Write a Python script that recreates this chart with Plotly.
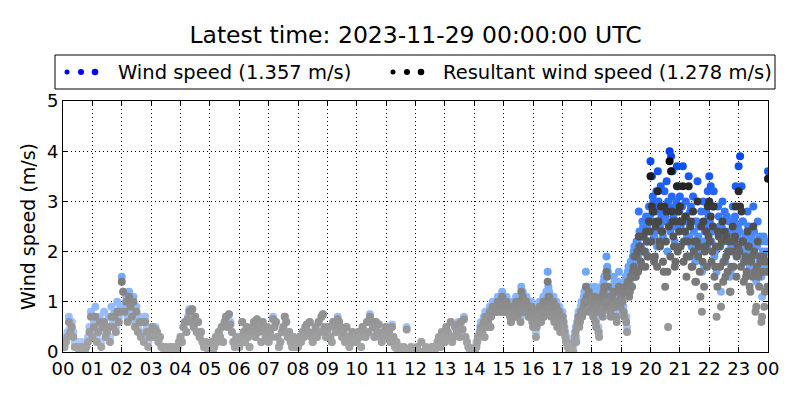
import numpy as np
import plotly.graph_objects as go

# 00:00-13:57, 3-minute samples
ws_a = [0.2,0.1,0.3,0.4,0.7,0.5,0.6,0.4,0.2,0.1,0.2,0.0,0.1,0.2,0.1,0.0,0.1,0.3,0.5,0.8,
        0.4,0.6,0.9,0.3,0.5,0.7,0.2,0.6,0.8,0.4,0.5,0.7,0.3,0.9,0.6,0.8,0.5,1.0,0.7,0.9,
        1.5,1.2,0.9,1.1,0.7,1.2,1.0,0.8,1.1,0.6,0.9,0.5,0.7,0.4,0.6,0.3,0.7,0.5,0.2,0.4,
        0.4,0.5,0.3,0.5,0.4,0.2,0.3,0.1,0.1,0.0,0.1,0.0,0.0,0.1,0.0,0.1,0.0,0.0,0.1,0.2,
        0.3,0.2,0.5,0.6,0.4,0.7,0.85,0.6,0.85,0.5,0.7,0.4,0.6,0.3,0.4,0.2,0.1,0.2,0.1,0.0,
        0.1,0.2,0.0,0.1,0.3,0.2,0.4,0.3,0.5,0.2,0.6,0.7,0.5,0.75,0.6,0.4,0.2,0.1,0.3,0.2,
        0.1,0.3,0.6,0.4,0.2,0.5,0.3,0.1,0.4,0.5,0.6,0.3,0.65,0.4,0.5,0.2,0.6,0.4,0.3,0.5,
        0.2,0.4,0.3,0.7,0.5,0.6,0.3,0.1,0.2,0.4,0.5,0.7,0.6,0.3,0.4,0.2,0.1,0.3,0.2,0.1,
        0.1,0.3,0.2,0.4,0.3,0.5,0.55,0.4,0.6,0.3,0.2,0.4,0.5,0.3,0.6,0.4,0.7,0.75,0.5,0.3,
        0.4,0.5,0.3,0.2,0.6,0.5,0.4,0.7,0.6,0.5,0.3,0.4,0.2,0.5,0.3,0.1,0.2,0.4,0.3,0.2,
        0.2,0.4,0.3,0.1,0.5,0.4,0.3,0.6,0.4,0.75,0.6,0.5,0.3,0.6,0.4,0.55,0.3,0.2,0.4,0.3,
        0.5,0.3,0.4,0.2,0.55,0.3,0.1,0.2,0.0,0.1,0.0,0.0,0.1,0.0,0.5,0.0,0.0,0.1,0.0,0.0,
        0.0,0.1,0.0,0.0,0.2,0.0,0.0,0.1,0.0,0.0,0.0,0.1,0.0,0.0,0.1,0.2,0.3,0.1,0.4,0.3,
        0.2,0.5,0.4,0.3,0.6,0.2,0.3,0.5,0.4,0.6,0.3,0.6,0.45,0.7,0.3,0.2,0.1,0.0,0.0,0.0]
rws_a = [0.1,0.1,0.2,0.3,0.6,0.4,0.5,0.3,0.1,0.1,0.1,0.0,0.1,0.1,0.0,0.0,0.1,0.2,0.4,0.7,
         0.3,0.5,0.7,0.2,0.4,0.6,0.1,0.5,0.6,0.3,0.4,0.5,0.2,0.7,0.5,0.7,0.4,0.8,0.6,0.8,
         1.4,1.2,0.8,1.0,0.6,1.1,0.9,0.7,1.0,0.5,0.8,0.4,0.6,0.3,0.6,0.2,0.6,0.4,0.1,0.3,
         0.4,0.5,0.3,0.45,0.4,0.2,0.3,0.1,0.1,0.0,0.1,0.0,0.0,0.1,0.0,0.1,0.0,0.0,0.1,0.2,
         0.3,0.2,0.5,0.6,0.4,0.65,0.8,0.6,0.85,0.5,0.7,0.4,0.6,0.3,0.4,0.2,0.1,0.2,0.1,0.0,
         0.1,0.2,0.0,0.1,0.3,0.2,0.4,0.3,0.5,0.2,0.6,0.7,0.5,0.75,0.55,0.4,0.2,0.1,0.3,0.2,
         0.1,0.3,0.6,0.4,0.2,0.5,0.3,0.1,0.4,0.5,0.6,0.3,0.65,0.4,0.5,0.2,0.6,0.4,0.3,0.5,
         0.2,0.4,0.3,0.65,0.5,0.6,0.3,0.1,0.2,0.4,0.5,0.7,0.6,0.3,0.4,0.2,0.1,0.3,0.2,0.1,
         0.1,0.3,0.2,0.4,0.3,0.5,0.55,0.4,0.6,0.3,0.2,0.4,0.5,0.3,0.6,0.4,0.7,0.75,0.5,0.3,
         0.4,0.5,0.3,0.2,0.6,0.5,0.4,0.65,0.6,0.5,0.3,0.4,0.2,0.5,0.3,0.1,0.2,0.4,0.3,0.2,
         0.2,0.4,0.3,0.1,0.5,0.4,0.3,0.6,0.4,0.7,0.6,0.5,0.3,0.6,0.4,0.55,0.3,0.2,0.4,0.3,
         0.5,0.3,0.4,0.2,0.5,0.3,0.1,0.2,0.0,0.1,0.0,0.0,0.1,0.0,0.45,0.0,0.0,0.1,0.0,0.0,
         0.0,0.1,0.0,0.0,0.2,0.0,0.0,0.1,0.0,0.0,0.0,0.1,0.0,0.0,0.1,0.2,0.3,0.1,0.4,0.3,
         0.2,0.5,0.4,0.3,0.6,0.2,0.3,0.5,0.4,0.55,0.3,0.6,0.45,0.65,0.3,0.2,0.1,0.0,0.0,0.0]

# 14:00-24:00, 3-minute samples
ws_b = [0.0,0.1,0.2,0.3,0.5,0.4,0.6,0.3,0.7,0.6,0.8,0.5,0.9,0.8,1.0,0.9,1.1,0.9,1.0,1.2,
        1.0,0.9,1.1,0.8,0.9,0.6,1.0,0.9,0.8,1.0,1.1,0.9,1.3,1.2,0.9,1.1,1.0,0.8,0.9,1.0,
        0.6,0.8,0.4,0.9,0.7,1.0,0.8,1.1,0.9,1.2,1.6,1.2,1.0,0.9,1.1,0.8,1.0,0.7,0.9,0.6,
        0.8,0.6,0.4,0.3,0.2,0.1,0.1,0.0,0.3,0.5,0.6,0.8,0.7,1.0,0.9,1.2,1.6,1.1,1.3,0.9,
        1.1,0.8,1.3,0.6,1.0,0.4,1.2,0.9,1.4,1.0,1.9,1.6,1.2,0.8,1.3,1.5,1.1,0.7,1.4,1.2,
        1.3,1.1,0.8,1.5,0.5,1.7,1.4,1.6,1.9,2.1,1.8,2.2,2.8,2.3,2.0,2.5,2.4,2.7,2.2,2.9,
        3.8,3.5,3.0,2.4,3.2,3.6,2.9,3.3,2.8,2.2,2.7,3.4,3.0,4.0,3.9,3.6,2.5,2.9,3.7,3.3,
        3.1,2.9,3.7,2.6,3.0,2.3,3.5,2.8,2.1,3.1,2.6,1.9,3.4,2.5,2.2,1.6,3.0,2.4,2.8,3.2,
        3.5,3.3,2.4,3.2,2.0,1.6,2.9,2.5,1.2,3.0,2.2,1.8,2.7,2.4,1.5,2.1,2.9,2.6,3.3,2.3,
        3.7,3.9,3.3,2.6,2.2,1.9,2.8,2.5,1.6,2.3,2.9,2.1,1.4,2.6,1.8,2.2,1.1,2.3,1.7,2.0,
        3.6]
rws_b = [0.0,0.1,0.2,0.3,0.4,0.4,0.5,0.3,0.6,0.6,0.7,0.5,0.8,0.8,0.9,0.8,1.0,0.9,0.9,1.1,
         0.9,0.8,1.0,0.8,0.8,0.6,0.9,0.8,0.7,0.9,1.0,0.8,1.2,1.1,0.8,1.0,0.9,0.7,0.8,0.9,
         0.5,0.7,0.3,0.8,0.6,0.9,0.7,1.0,0.8,1.0,1.4,1.1,0.9,0.8,1.0,0.7,0.9,0.6,0.8,0.5,
         0.7,0.5,0.3,0.2,0.1,0.0,0.1,0.0,0.2,0.4,0.5,0.7,0.6,0.8,0.8,1.0,1.3,1.0,1.2,0.8,
         0.9,0.7,1.1,0.5,0.8,0.3,1.0,0.8,1.2,0.9,1.6,1.3,1.0,0.7,1.1,1.2,0.9,0.6,1.2,1.0,
         1.1,1.0,0.7,1.3,0.4,1.4,1.2,1.5,1.6,1.9,1.5,2.0,2.3,2.1,1.7,2.3,2.0,2.4,1.9,2.6,
         3.5,2.9,2.8,1.9,2.6,3.2,2.2,2.9,2.4,1.6,1.3,2.8,0.5,3.8,3.6,2.6,2.1,1.8,3.3,2.8,
         2.9,2.6,3.3,2.2,2.7,1.9,3.3,2.5,1.7,2.8,2.2,1.4,3.0,2.1,1.1,0.8,2.6,2.0,2.4,2.9,
         3.0,2.7,2.0,2.9,1.7,0.7,2.4,2.1,0.9,2.6,1.8,1.5,2.3,2.0,1.2,1.7,2.5,2.2,2.9,1.9,
         3.2,2.9,2.8,2.2,1.8,1.5,2.4,2.1,1.2,1.9,2.5,1.6,0.9,2.2,1.3,1.8,0.7,1.9,1.2,1.6,
         3.45]

# 14:01:30-23:58:30, 3-minute samples (interleaved with the block above)
ws_c = [0.0,0.2,0.3,0.4,0.6,0.5,0.7,0.8,0.6,0.7,0.9,0.8,1.0,0.9,0.8,1.0,0.9,1.1,0.8,0.9,
        0.9,0.8,1.0,0.9,0.7,1.0,0.8,0.9,1.1,0.8,1.0,0.7,0.9,1.0,0.8,1.1,0.9,0.8,1.0,0.7,
        0.7,0.9,0.6,0.8,1.0,0.7,0.9,0.8,1.0,1.1,1.3,0.9,0.8,1.0,0.7,0.9,0.6,0.8,0.5,0.7,
        0.7,0.5,0.3,0.2,0.1,0.0,0.2,0.1,0.4,0.3,0.7,0.6,0.9,0.8,1.1,1.0,1.3,1.2,0.9,1.1,
        0.9,1.2,0.7,1.1,0.5,0.9,1.3,0.8,1.5,1.1,1.7,1.3,0.9,1.2,1.0,1.4,0.8,1.2,1.6,1.0,
        1.2,0.9,1.4,0.7,1.6,1.3,1.8,1.5,2.0,1.7,2.2,1.9,2.4,2.1,2.6,2.3,2.0,2.5,2.2,2.7,
        2.6,3.1,2.3,2.8,2.1,3.0,2.5,2.7,2.3,3.2,2.6,2.0,2.9,2.4,3.1,2.7,2.2,3.0,2.5,2.8,
        2.5,2.9,2.2,2.7,1.9,2.6,2.3,2.9,2.1,2.4,1.8,2.6,2.3,2.0,2.8,2.2,1.7,2.5,2.1,2.7,
        2.6,2.2,2.9,1.9,2.4,1.7,2.7,2.1,2.5,1.8,2.8,2.3,2.0,2.6,1.6,2.4,2.1,2.7,1.9,2.5,
        2.4,2.1,2.6,1.8,2.3,2.0,2.5,1.7,2.2,1.9,2.4,1.6,2.1,1.9,2.3,1.5,2.0,1.7,2.2,1.8]
rws_c = [0.0,0.1,0.3,0.3,0.5,0.4,0.6,0.7,0.5,0.6,0.8,0.7,0.9,0.8,0.8,0.9,0.8,1.0,0.8,0.9,
         0.8,0.8,0.9,0.9,0.7,0.9,0.8,0.8,1.0,0.7,0.9,0.6,0.8,0.9,0.8,1.0,0.8,0.7,0.9,0.6,
         0.6,0.8,0.5,0.7,0.9,0.6,0.8,0.7,0.9,1.0,1.1,0.8,0.7,0.9,0.6,0.8,0.5,0.7,0.4,0.6,
         0.6,0.4,0.2,0.1,0.0,0.0,0.1,0.0,0.3,0.2,0.6,0.5,0.8,0.7,0.9,0.8,1.1,1.0,0.8,1.0,
         0.8,1.0,0.6,0.9,0.4,0.8,1.1,0.7,1.3,1.0,1.5,1.1,0.8,1.0,0.9,1.2,0.7,1.0,1.3,0.9,
         1.0,0.8,1.2,0.6,1.4,1.1,1.5,1.3,1.7,1.5,1.9,1.6,2.1,1.8,2.3,2.0,1.7,2.2,1.9,2.4,
         2.2,2.8,1.8,2.5,1.7,2.6,2.1,2.4,1.8,2.9,2.2,1.6,2.5,1.9,2.8,2.3,1.7,2.6,2.0,2.4,
         2.1,2.6,1.8,2.4,1.5,2.2,1.9,2.6,1.7,2.0,1.4,2.2,1.9,1.6,2.5,1.8,1.3,2.1,1.7,2.3,
         2.2,1.8,2.5,1.5,2.1,1.3,2.3,1.7,2.2,1.4,2.4,1.9,1.6,2.2,1.2,2.0,1.7,2.3,1.5,2.1,
         2.0,1.7,2.2,1.4,1.9,1.6,2.1,1.3,1.8,1.5,2.0,0.8,1.7,1.5,1.9,0.6,1.6,0.9,1.8,1.3]

hour_labels = ["%02d" % (h % 24) for h in range(25)]
title_text = "Latest time: 2023-11-29 00:00:00 UTC"
ws_label = "Wind speed (1.357 m/s)"
rws_label = "Resultant wind speed (1.278 m/s)"

t_a = np.arange(len(ws_a)) * 3 / 60.0
t_b = 14 + np.arange(len(ws_b)) * 3 / 60.0
t_c = 14 + 1.5 / 60.0 + np.arange(len(ws_c)) * 3 / 60.0
t = np.concatenate([t_a, t_b, t_c])
ws = np.array(ws_a + ws_b + ws_c)
rws = np.array(rws_a + rws_b + rws_c)
order = np.argsort(t, kind='stable')
t, ws, rws = t[order], ws[order], rws[order]

blue_scale = [[0, '#b4cdff'], [0.25, '#8cb8ff'], [0.5, '#5a9bff'], [0.75, '#2a6cff'], [1, '#0044ee']]
gray_scale = [[0, '#a6a6a6'], [0.25, '#8a8a8a'], [0.5, '#666666'], [0.75, '#333333'], [1, '#000000']]

fig = go.Figure()
fig.add_trace(go.Scatter(x=t, y=ws, mode='markers', showlegend=False,
                         marker=dict(size=8, color=ws, colorscale=blue_scale, cmin=0, cmax=4,
                                     line=dict(width=0))))
fig.add_trace(go.Scatter(x=t, y=rws, mode='markers', showlegend=False,
                         marker=dict(size=8, color=rws, colorscale=gray_scale, cmin=0, cmax=4,
                                     line=dict(width=0))))

font = "DejaVu Sans"
axis_common = dict(showline=True, linecolor='black', linewidth=1, mirror='allticks',
                   ticks='inside', ticklen=5, tickcolor='black',
                   showgrid=True, gridcolor='black', griddash='1px,3px', gridwidth=1,
                   zeroline=False, tickfont=dict(size=18, color='black', family=font))

# page body has an 8px offset; margins compensate so the plot lands at 63..768 x 101..352
fig.update_layout(
    width=800, height=400,
    margin=dict(l=55, r=40, t=93, b=56),
    plot_bgcolor='white', paper_bgcolor='white',
    font=dict(family=font, color='black'),
    title=dict(text=title_text, x=0.5, xref='paper', xanchor='center', y=1 - 27 / 400.0,
               yref='container', yanchor='middle', font=dict(size=23.5, family=font, color='black')),
    xaxis=dict(range=[0, 24], tickmode='array', tickvals=list(range(25)), ticktext=hour_labels,
               **axis_common),
    yaxis=dict(range=[0, 5], tickmode='array', tickvals=[0, 1, 2, 3, 4, 5],
               title=dict(text="Wind speed (m/s)", font=dict(size=19, family=font, color='black'), standoff=6),
               **axis_common),
)

def px_x(px):
    return (px - 63) / 705.0

def px_y(py):
    return (352 - py) / 251.0

shapes = [dict(type='rect', xref='paper', yref='paper', x0=px_x(55), x1=px_x(775),
               y0=px_y(89), y1=px_y(55), line=dict(color='black', width=1), fillcolor='white')]
for cx, r, col in [(67, 2.5, '#0000ff'), (81, 3, '#0000ff'), (95, 3.3, '#0000ff'),
                   (393, 2.5, '#000000'), (407, 3, '#000000'), (421, 3.3, '#000000')]:
    shapes.append(dict(type='circle', xref='paper', yref='paper', xsizemode='pixel', ysizemode='pixel',
                       xanchor=px_x(cx), yanchor=px_y(72), x0=-r, x1=r, y0=-r, y1=r,
                       fillcolor=col, line=dict(width=0)))
fig.update_layout(shapes=shapes)
fig.add_annotation(text=ws_label, xref='paper', yref='paper', x=px_x(116), y=px_y(72),
                   xanchor='left', yanchor='middle', showarrow=False, font=dict(size=19.5, family=font))
fig.add_annotation(text=rws_label, xref='paper', yref='paper', x=px_x(441), y=px_y(72),
                   xanchor='left', yanchor='middle', showarrow=False, font=dict(size=19.5, family=font))

fig.write_html("out.html")
